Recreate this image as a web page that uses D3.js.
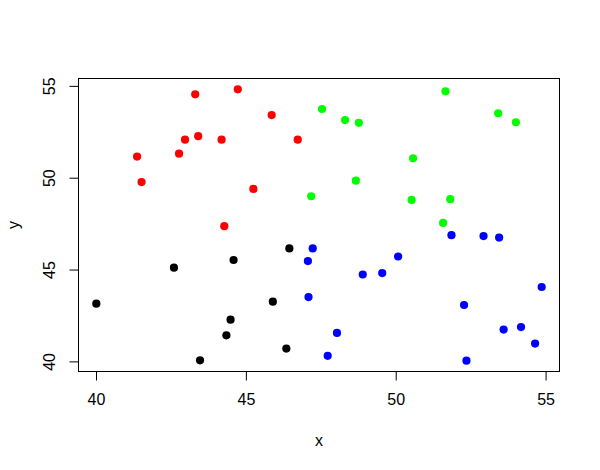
<!DOCTYPE html>
<html>
<head>
<meta charset="utf-8">
<script src="https://cdn.jsdelivr.net/npm/d3@7"></script>
<style>
  html, body { margin: 0; padding: 0; background: #fff; }
  svg { display: block; }
  text { font-family: "Liberation Sans", Arial, Helvetica, sans-serif; }
</style>
</head>
<body>
<svg id="chart" width="600" height="470"></svg>
<script>
// ---- data ----
const groups = ["black", "red", "green", "blue"];
const xBlack = [40.01, 42.60, 44.59, 46.45, 45.90, 44.49, 44.35, 43.47, 46.35];
const yBlack = [43.14, 45.10, 45.52, 46.15, 43.25, 42.27, 41.42, 40.06, 40.70];
const xRed = [43.31, 44.73, 45.86, 42.97, 43.41, 44.19, 46.73, 41.37, 42.77, 41.52, 45.25, 44.28];
const yRed = [54.54, 54.81, 53.41, 52.07, 52.26, 52.07, 52.07, 51.15, 51.31, 49.76, 49.39, 47.36];
const xGreen = [47.54, 47.18, 51.66, 48.31, 48.77, 53.42, 54.01, 50.58, 48.67, 50.53, 51.82, 51.58];
const yGreen = [53.74, 48.99, 54.70, 53.14, 52.99, 53.51, 53.02, 51.06, 49.84, 48.79, 48.83, 47.54];
const xBlue = [47.23, 47.07, 47.09, 48.04, 47.73, 48.90, 49.55, 50.08, 51.86, 52.93, 53.45, 52.28, 52.36, 53.60, 54.18, 54.65, 54.87];
const yBlue = [46.15, 45.46, 43.50, 41.55, 40.30, 44.73, 44.81, 45.71, 46.87, 46.82, 46.74, 43.07, 40.04, 41.73, 41.87, 40.97, 44.05];
const xTicks = [40, 45, 50, 55];
const yTicks = [40, 45, 50, 55];
const xLabel = "x";
const yLabel = "y";

const series = [
  { color: "#000000", xs: xBlack, ys: yBlack },
  { color: "#FF0000", xs: xRed, ys: yRed },
  { color: "#00FF00", xs: xGreen, ys: yGreen },
  { color: "#0000FF", xs: xBlue, ys: yBlue }
];

// ---- layout ----
const mLeft = 78.5, mRight = 559.5, mTop = 78.5, mBottom = 371.5;
const svg = d3.select("#chart");

const allX = [].concat(xBlack, xRed, xGreen, xBlue);
const allY = [].concat(yBlack, yRed, yGreen, yBlue);
function ext(v) { const e = d3.extent(v); const d = (e[1] - e[0]) * 0.04; return [e[0] - d, e[1] + d]; }

const x = d3.scaleLinear().domain(ext(allX)).range([mLeft, mRight]);
const y = d3.scaleLinear().domain(ext(allY)).range([mBottom, mTop]);

// points
series.forEach(s => {
  svg.append("g").selectAll("circle")
    .data(s.xs.map((v, i) => [v, s.ys[i]]))
    .join("circle")
    .attr("cx", d => x(d[0]))
    .attr("cy", d => y(d[1]))
    .attr("r", 4.1)
    .attr("fill", s.color);
});

// box
svg.append("rect")
  .attr("x", mLeft).attr("y", mTop)
  .attr("width", mRight - mLeft).attr("height", mBottom - mTop)
  .attr("fill", "none").attr("stroke", "#000").attr("stroke-width", 1);

// x axis
const xAxis = d3.axisBottom(x).tickValues(xTicks).tickSize(9).tickPadding(13).tickFormat(d3.format("d"));
const gx = svg.append("g").attr("transform", `translate(0,${mBottom})`).call(xAxis);
gx.select(".domain").attr("d", `M${x(xTicks[0])},0H${x(xTicks[xTicks.length - 1])}`).attr("stroke", "#000");
gx.selectAll("text").attr("font-size", 16).attr("fill", "#000").attr("font-family", "Liberation Sans, Arial, sans-serif");

// y axis
const yAxis = d3.axisLeft(y).tickValues(yTicks).tickSize(9).tickPadding(13).tickFormat(d3.format("d"));
const gy = svg.append("g").attr("transform", `translate(${mLeft},0)`).call(yAxis);
gy.select(".domain").attr("d", `M0,${y(yTicks[0])}V${y(yTicks[yTicks.length - 1])}`).attr("stroke", "#000");
gy.selectAll("text")
  .attr("font-size", 16).attr("fill", "#000").attr("font-family", "Liberation Sans, Arial, sans-serif")
  .attr("text-anchor", "middle")
  .attr("x", null).attr("dy", null)
  .attr("transform", "translate(-24,0) rotate(-90)");

// axis titles
svg.append("text").attr("x", (mLeft + mRight) / 2).attr("y", 446)
  .attr("text-anchor", "middle").attr("font-size", 16).text(xLabel);
svg.append("text").attr("transform", `translate(19,${(mTop + mBottom) / 2}) rotate(-90)`)
  .attr("text-anchor", "middle").attr("font-size", 16).text(yLabel);
</script>
</body>
</html>
